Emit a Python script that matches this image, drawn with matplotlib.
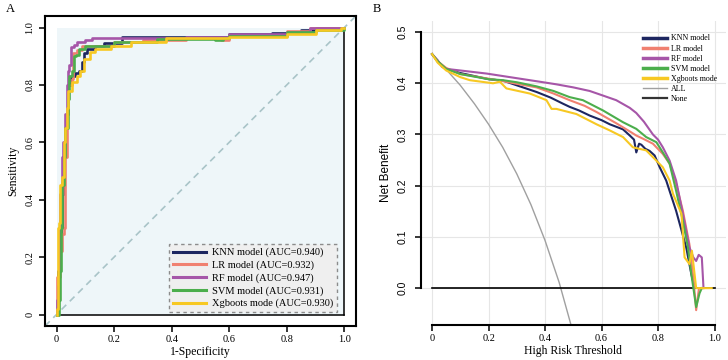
import numpy as np
import matplotlib
matplotlib.use('Agg')
import matplotlib.pyplot as plt
from matplotlib.patches import Rectangle
from matplotlib.lines import Line2D

plt.rcParams['font.family'] = 'serif'
plt.rcParams['font.serif'] = ['Liberation Serif', 'DejaVu Serif']

# ---- data ----
models = ['KNN model', 'LR model', 'RF model', 'SVM model', 'Xgboots mode']
auc = ['0.940', '0.932', '0.947', '0.931', '0.930']
colors = ['#1d2660', '#f08070', '#a656a8', '#4cae4c', '#f7c823']

# ROC curves
knn_fpr = [0, 0.005, 0.01, 0.015, 0.02, 0.025, 0.03, 0.035, 0.04, 0.05, 0.065, 0.077, 0.09, 0.095, 0.106, 0.135, 0.164, 0.228, 0.4, 0.6, 0.75, 0.85, 0.9, 1.0]
knn_tpr = [0, 0.15, 0.28, 0.30, 0.42, 0.55, 0.65, 0.70, 0.80, 0.83, 0.84, 0.85, 0.88, 0.91, 0.926, 0.937, 0.945, 0.966, 0.968, 0.978, 0.982, 0.99, 1.0, 1.0]
lr_fpr = [0, 0, 0.01, 0.012, 0.02, 0.025, 0.028, 0.03, 0.035, 0.04, 0.054, 0.056, 0.07, 0.09, 0.2, 0.3, 0.45, 0.57, 0.6, 0.8, 0.88, 1.0]
lr_tpr = [0, 0.13, 0.13, 0.22, 0.28, 0.30, 0.45, 0.55, 0.70, 0.80, 0.82, 0.91, 0.92, 0.935, 0.948, 0.958, 0.962, 0.958, 0.975, 0.988, 1.0, 1.0]
rf_fpr = [0, 0, 0.005, 0.008, 0.01, 0.012, 0.018, 0.02, 0.022, 0.03, 0.035, 0.04, 0.045, 0.049, 0.06, 0.07, 0.1, 0.124, 0.3, 0.45, 0.6, 0.8, 0.88, 1.0]
rf_tpr = [0, 0.05, 0.10, 0.20, 0.30, 0.42, 0.45, 0.55, 0.60, 0.70, 0.80, 0.85, 0.87, 0.932, 0.94, 0.951, 0.957, 0.962, 0.965, 0.968, 0.978, 0.986, 1.0, 1.0]
svm_fpr = [0, 0.01, 0.012, 0.015, 0.02, 0.025, 0.03, 0.04, 0.045, 0.055, 0.06, 0.066, 0.077, 0.1, 0.2, 0.35, 0.55, 0.58, 0.6, 0.8, 0.9, 1.0]
svm_tpr = [0, 0.05, 0.15, 0.30, 0.45, 0.55, 0.65, 0.75, 0.83, 0.85, 0.90, 0.903, 0.926, 0.935, 0.95, 0.96, 0.958, 0.962, 0.97, 0.986, 0.99, 1.0]
xgb_fpr = [0, 0.003, 0.005, 0.01, 0.012, 0.02, 0.025, 0.03, 0.035, 0.04, 0.054, 0.072, 0.083, 0.095, 0.118, 0.135, 0.19, 0.26, 0.38, 0.6, 0.8, 0.9, 0.99, 1.0]
xgb_tpr = [0, 0.02, 0.30, 0.32, 0.45, 0.48, 0.60, 0.65, 0.72, 0.78, 0.81, 0.83, 0.85, 0.89, 0.915, 0.925, 0.935, 0.948, 0.963, 0.966, 0.976, 0.99, 1.0, 1.0]

# decision curves
knn_t = [0, 0.02, 0.05, 0.1, 0.134, 0.2, 0.252, 0.3, 0.37, 0.42, 0.464, 0.487, 0.52, 0.558, 0.6, 0.629, 0.676, 0.70, 0.715, 0.723, 0.733, 0.741, 0.755, 0.770, 0.788, 0.806, 0.829, 0.864, 0.90, 0.918, 0.93]
knn_nb = [0.457, 0.442, 0.428, 0.42, 0.416, 0.408, 0.405, 0.396, 0.383, 0.372, 0.36, 0.354, 0.347, 0.337, 0.328, 0.32, 0.31, 0.298, 0.29, 0.265, 0.282, 0.28, 0.272, 0.268, 0.259, 0.236, 0.21, 0.151, 0.079, 0.027, 0.0]
lr_t = [0, 0.02, 0.05, 0.1, 0.2, 0.252, 0.3, 0.37, 0.43, 0.487, 0.54, 0.582, 0.652, 0.7, 0.723, 0.746, 0.782, 0.817, 0.841, 0.864, 0.888, 0.911, 0.925, 0.935, 0.945]
lr_nb = [0.457, 0.443, 0.43, 0.418, 0.409, 0.404, 0.399, 0.392, 0.38, 0.367, 0.356, 0.344, 0.322, 0.306, 0.298, 0.292, 0.282, 0.262, 0.243, 0.204, 0.151, 0.086, 0.02, -0.043, 0.0]
rf_t = [0, 0.02, 0.035, 0.052, 0.1, 0.193, 0.252, 0.311, 0.382, 0.44, 0.5, 0.558, 0.6, 0.652, 0.7, 0.723, 0.75, 0.782, 0.80, 0.817, 0.841, 0.864, 0.888, 0.911, 0.925, 0.935, 0.944, 0.955, 0.961]
rf_nb = [0.457, 0.445, 0.432, 0.428, 0.425, 0.419, 0.414, 0.409, 0.403, 0.398, 0.392, 0.385, 0.377, 0.367, 0.352, 0.342, 0.325, 0.30, 0.29, 0.275, 0.249, 0.21, 0.145, 0.08, 0.06, 0.053, 0.065, 0.06, 0.0]
svm_t = [0, 0.02, 0.05, 0.1, 0.2, 0.252, 0.3, 0.37, 0.43, 0.487, 0.534, 0.605, 0.676, 0.723, 0.758, 0.794, 0.817, 0.841, 0.864, 0.888, 0.906, 0.918, 0.935, 0.947, 0.955]
svm_nb = [0.457, 0.443, 0.428, 0.418, 0.408, 0.406, 0.402, 0.394, 0.385, 0.373, 0.367, 0.347, 0.324, 0.311, 0.295, 0.285, 0.265, 0.243, 0.19, 0.131, 0.079, 0.027, -0.037, -0.01, 0.0]
xgb_t = [0, 0.02, 0.05, 0.1, 0.134, 0.216, 0.24, 0.263, 0.346, 0.405, 0.423, 0.44, 0.511, 0.582, 0.629, 0.676, 0.711, 0.758, 0.794, 0.817, 0.841, 0.853, 0.883, 0.894, 0.911, 0.92, 0.935, 0.99]
xgb_nb = [0.457, 0.44, 0.425, 0.412, 0.406, 0.40, 0.403, 0.39, 0.38, 0.367, 0.35, 0.35, 0.34, 0.32, 0.308, 0.295, 0.275, 0.269, 0.249, 0.236, 0.21, 0.184, 0.145, 0.06, 0.047, 0.073, 0.0, 0.0]
all_t = [0, 0.05, 0.1, 0.15, 0.2, 0.25, 0.3, 0.35, 0.4, 0.45, 0.5]
all_nb = [0.456, 0.427, 0.396, 0.360, 0.320, 0.275, 0.223, 0.163, 0.093, 0.011, -0.088]
none_t = [0, 1]
none_nb = [0, 0]

ticks = [0, 0.2, 0.4, 0.6, 0.8, 1.0]
tick_labels = ['0', '0.2', '0.4', '0.6', '0.8', '1.0']
nb_ticks = [0.0, 0.1, 0.2, 0.3, 0.4, 0.5]

fig = plt.figure(figsize=(7.28, 3.6), dpi=100)

# ---------------- A: ROC ----------------
ax1 = fig.add_axes([0.0618, 0.0944, 0.427, 0.861])
ax1.set_xlim(-0.04, 1.04)
ax1.set_ylim(-0.04, 1.04)
ax1.add_patch(Rectangle((0, 0), 1, 1, facecolor='#eef6f9', edgecolor='none', zorder=0))
ax1.plot([1, 1], [0, 1], color='black', lw=1.1, zorder=1)
ax1.plot([0, 1], [0, 0], color='black', lw=1.1, zorder=1)
ax1.plot([0, 1], [0, 1], transform=ax1.transAxes, color='#a9c4c8', lw=1.2,
         ls=(0, (4, 3)), zorder=1)

roc = [(knn_fpr, knn_tpr), (lr_fpr, lr_tpr), (rf_fpr, rf_tpr), (svm_fpr, svm_tpr), (xgb_fpr, xgb_tpr)]
for (fx, ty), c, m, a in zip(roc, colors, models, auc):
    ax1.plot(fx, ty, drawstyle='steps-post', color=c, lw=1.9,
             label='%s (AUC=%s)' % (m, a), zorder=3)

for s in ax1.spines.values():
    s.set_linewidth(1.5)
ax1.set_xticks(ticks)
ax1.set_xticklabels(tick_labels)
ax1.set_yticks(ticks)
ax1.set_yticklabels(tick_labels, rotation=90, va='center')
ax1.tick_params(length=4.3, width=1.1, labelsize=7.5)
ax1.tick_params(axis='y', pad=3.5)
ax1.tick_params(axis='x', pad=2.5)
ax1.set_xlabel('1-Specificity', fontsize=8.5, labelpad=1)
ax1.set_ylabel('Sensitivity', fontsize=8.5, labelpad=4)

leg1 = ax1.legend(loc='lower right', bbox_to_anchor=(0.94, 0.045), fontsize=7.5,
                  frameon=True, fancybox=False, handlelength=3.2, handletextpad=0.6,
                  labelspacing=0.3, borderpad=0.35, borderaxespad=0)
fr = leg1.get_frame()
fr.set_facecolor('#efefef')
fr.set_edgecolor('#8c8c8c')
fr.set_linestyle((0, (2.5, 2.5)))
fr.set_linewidth(1.0)
fr.set_alpha(1)
for h in leg1.get_lines():
    h.set_linewidth(2.2)

fig.text(0.008, 0.975, 'A', fontsize=9, va='center')

# ---------------- B: DCA ----------------
ax2 = fig.add_axes([0.578, 0.0972, 0.419, 0.845])
ax2.set_xlim(-0.04, 1.04)
ax2.set_ylim(-0.072, 0.522)
ax2.grid(True, color='#e6e6e6', lw=0.8)
ax2.set_axisbelow(True)

ax2.plot(all_t, all_nb, color='#a0a0a0', lw=1.0, zorder=2)
ax2.plot(none_t, none_nb, color='black', lw=1.2, zorder=2)
dca = [(knn_t, knn_nb), (lr_t, lr_nb), (rf_t, rf_nb), (svm_t, svm_nb), (xgb_t, xgb_nb)]
for (tx, nb), c in zip(dca, colors):
    ax2.plot(tx, nb, color=c, lw=1.5, zorder=3)

ax2.spines['top'].set_visible(False)
ax2.spines['right'].set_visible(False)
ax2.spines['left'].set_bounds(0, 0.5)
ax2.spines['bottom'].set_bounds(0, 1)
ax2.spines['left'].set_linewidth(1.5)
ax2.spines['bottom'].set_linewidth(1.5)
ax2.set_xticks(ticks)
ax2.set_xticklabels(tick_labels)
ax2.set_yticks(nb_ticks)
ax2.set_yticklabels(['%.1f' % v for v in nb_ticks], rotation=90, va='center',
                    family='Liberation Sans')
ax2.tick_params(length=4.3, width=1.1, labelsize=7.5)
ax2.tick_params(axis='y', pad=5)
ax2.tick_params(axis='x', pad=2.5)
ax2.set_xlabel('High Risk Threshold', fontsize=8.5, labelpad=1)
ax2.set_ylabel('Net Benefit', fontsize=8.5, family='Liberation Sans', labelpad=4)

handles = [Line2D([], [], color=c, lw=2.5) for c in colors]
handles.append(Line2D([], [], color='#a0a0a0', lw=1.0))
handles.append(Line2D([], [], color='#333333', lw=1.6))
leg2 = ax2.legend(handles, models + ['ALL', 'None'], loc='upper left',
                  bbox_to_anchor=(0.727, 0.955), fontsize=5.8, frameon=False,
                  handlelength=3.0, handletextpad=0.5, labelspacing=0.25,
                  borderpad=0, borderaxespad=0)

fig.text(0.512, 0.975, 'B', fontsize=9, va='center')

plt.savefig('out.png', dpi=100)
